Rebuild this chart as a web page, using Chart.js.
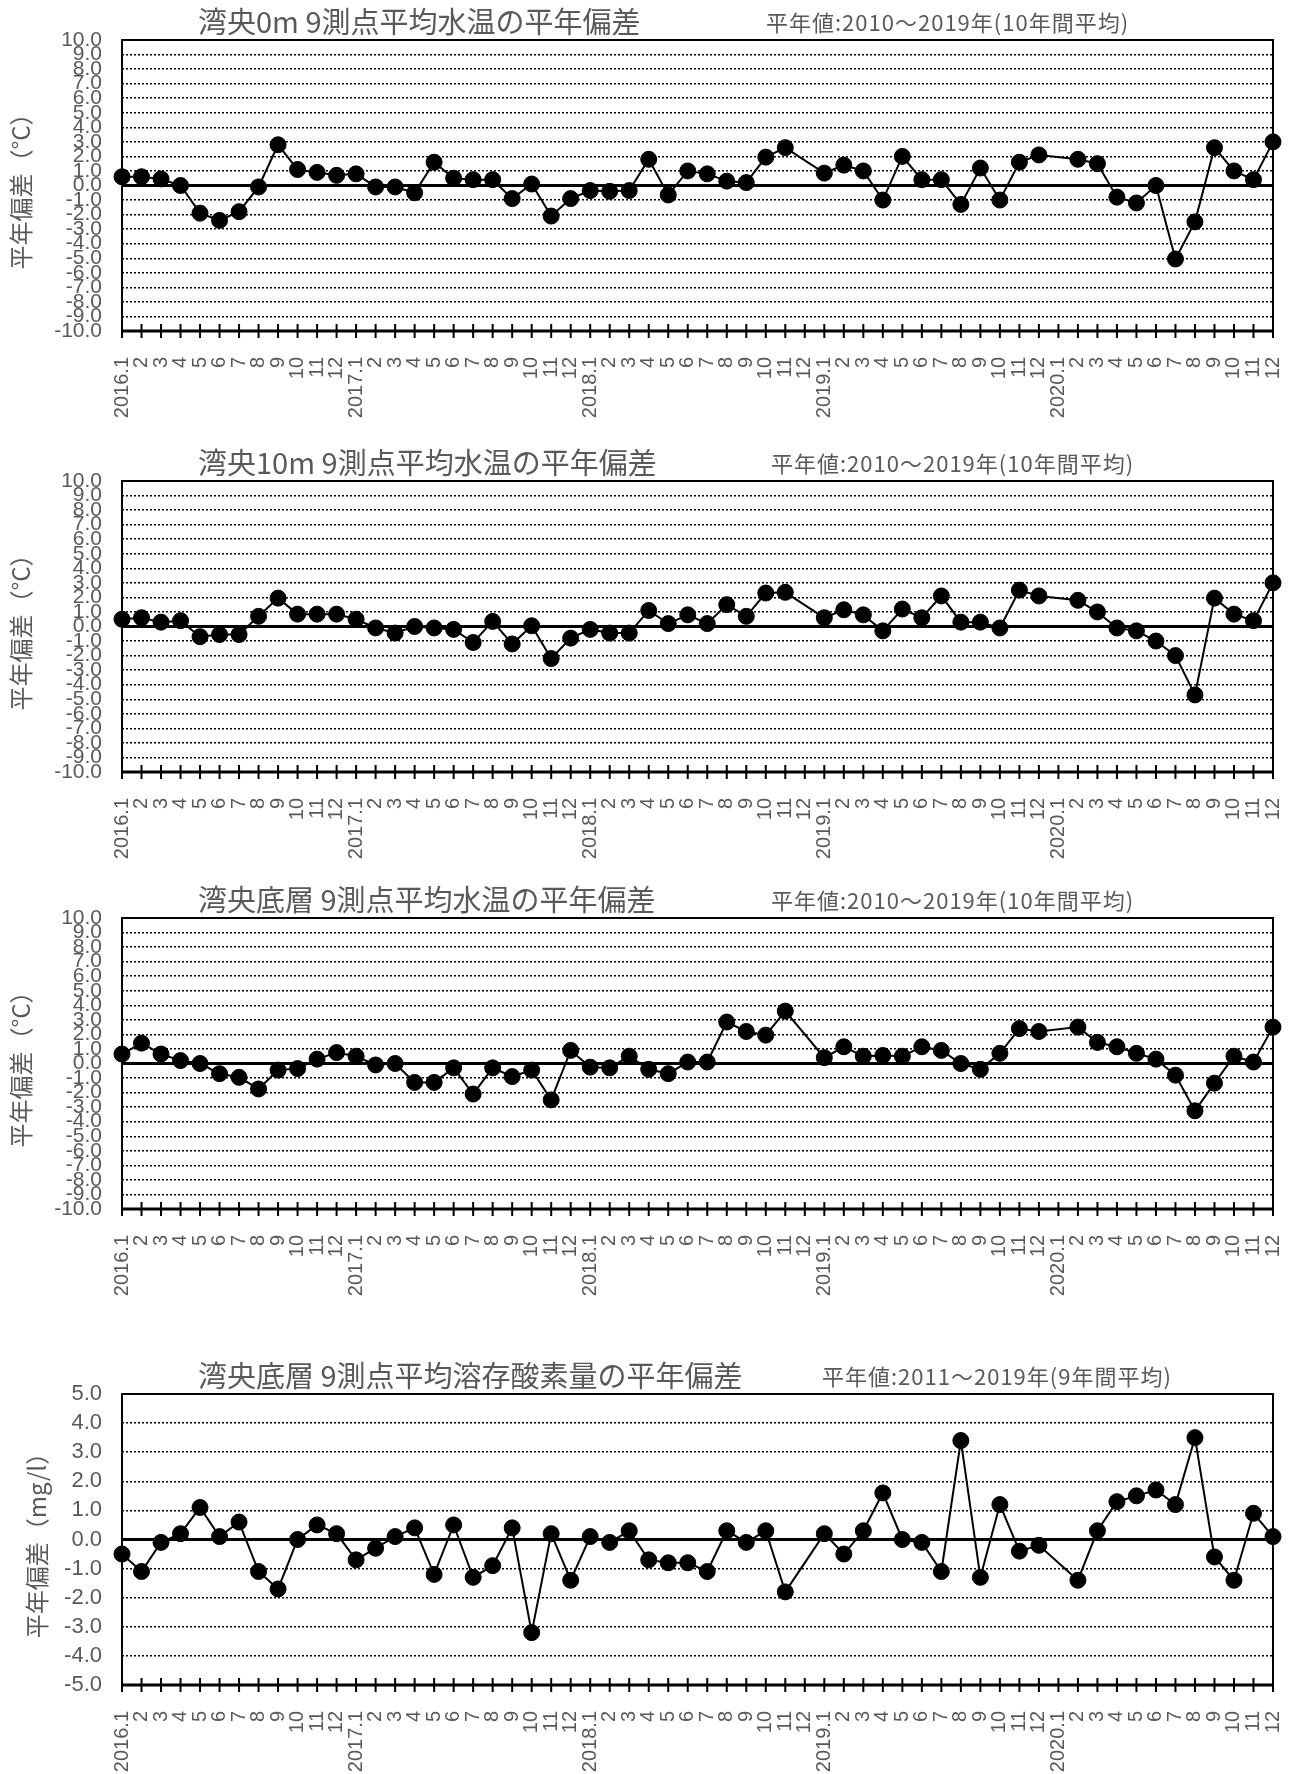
<!DOCTYPE html>
<html>
<head>
<meta charset="utf-8">
<script src="https://cdn.jsdelivr.net/npm/chart.js@4/dist/chart.umd.min.js"></script>
<style>
  body { margin: 0; background: #fff; }
  .box { position: absolute; left: 0; width: 1293px; height: 419px; }
</style>
</head>
<body>
<div class="box" style="top:0px"><canvas id="c0m" width="1293" height="419"></canvas></div>
<div class="box" style="top:441px"><canvas id="c10m" width="1293" height="419"></canvas></div>
<div class="box" style="top:878px"><canvas id="cbot" width="1293" height="419"></canvas></div>
<div class="box" style="top:1354px"><canvas id="cdo" width="1293" height="419"></canvas></div>
<script>
// months 2016.1 - 2020.12
const monthLabels = [
  '2016.1', '2', '3', '4', '5', '6', '7', '8', '9', '10', '11', '12',
  '2017.1', '2', '3', '4', '5', '6', '7', '8', '9', '10', '11', '12',
  '2018.1', '2', '3', '4', '5', '6', '7', '8', '9', '10', '11', '12',
  '2019.1', '2', '3', '4', '5', '6', '7', '8', '9', '10', '11', '12',
  '2020.1', '2', '3', '4', '5', '6', '7', '8', '9', '10', '11', '12'
];

// surface (0m) water temperature anomaly, deg C
const temp0m = [
  0.6, 0.6, 0.45, 0.0, -1.9, -2.4, -1.8, -0.1, 2.8, 1.1, 0.9, 0.7,
  0.8, -0.1, -0.1, -0.5, 1.6, 0.5, 0.4, 0.4, -0.9, 0.1, -2.1, -0.9,
  -0.35, -0.4, -0.35, 1.8, -0.65, 1.0, 0.8, 0.3, 0.2, 1.95, 2.6, null,
  0.85, 1.4, 1.0, -1.0, 2.0, 0.4, 0.4, -1.3, 1.2, -1.0, 1.6, 2.1,
  null, 1.8, 1.5, -0.8, -1.2, 0.0, -5.05, -2.5, 2.6, 1.0, 0.4, 3.0
];

// 10m water temperature anomaly, deg C
const temp10m = [
  0.5, 0.6, 0.3, 0.4, -0.7, -0.55, -0.55, 0.7, 1.95, 0.85, 0.85, 0.85,
  0.5, -0.1, -0.45, 0.0, -0.1, -0.2, -1.1, 0.35, -1.2, 0.05, -2.2, -0.8,
  -0.2, -0.45, -0.45, 1.1, 0.2, 0.8, 0.2, 1.5, 0.7, 2.3, 2.35, null,
  0.6, 1.15, 0.8, -0.3, 1.2, 0.6, 2.1, 0.3, 0.3, -0.1, 2.5, 2.1,
  null, 1.8, 1.0, -0.1, -0.3, -1.0, -2.0, -4.7, 1.95, 0.85, 0.4, 3.0
];

// bottom layer water temperature anomaly, deg C
const tempBottom = [
  0.65, 1.4, 0.65, 0.2, 0.0, -0.7, -0.95, -1.75, -0.45, -0.35, 0.3, 0.75,
  0.5, -0.1, 0.0, -1.3, -1.3, -0.3, -2.1, -0.3, -0.9, -0.45, -2.5, 0.9,
  -0.25, -0.3, 0.5, -0.4, -0.7, 0.1, 0.1, 2.85, 2.2, 1.95, 3.6, null,
  0.4, 1.15, 0.5, 0.55, 0.5, 1.15, 0.9, 0.0, -0.4, 0.7, 2.4, 2.2,
  null, 2.5, 1.45, 1.15, 0.7, 0.3, -0.8, -3.25, -1.35, 0.5, 0.1, 2.5
];

// bottom layer dissolved oxygen anomaly, mg/l
const doBottom = [
  -0.5, -1.1, -0.1, 0.2, 1.1, 0.1, 0.6, -1.1, -1.7, 0.0, 0.5, 0.2,
  -0.7, -0.3, 0.1, 0.4, -1.2, 0.5, -1.3, -0.9, 0.4, -3.2, 0.2, -1.4,
  0.1, -0.1, 0.3, -0.7, -0.8, -0.8, -1.1, 0.3, -0.1, 0.3, -1.8, null,
  0.2, -0.5, 0.3, 1.6, 0.0, -0.1, -1.1, 3.4, -1.3, 1.2, -0.4, -0.2,
  null, -1.4, 0.3, 1.3, 1.5, 1.7, 1.2, 3.5, -0.6, -1.4, 0.9, 0.1
];

const GRAY = '#595959';
const CJK = '"Noto Sans CJK JP", sans-serif';

// border, bold zero line, crossing ticks and the two title texts
function makeFrame(title, titleX, note, noteX)
{
    return {
        id: 'frame',
        beforeDatasetsDraw(chart) {
            let ctx = chart.ctx;
            let a = chart.chartArea;
            let xs = chart.scales.x;
            let ys = chart.scales.y;
            ctx.save();
            ctx.strokeStyle = '#000';

            let y0 = ys.getPixelForValue(0);
            ctx.lineWidth = 3;
            ctx.beginPath();
            ctx.moveTo(a.left, y0);
            ctx.lineTo(a.right, y0);
            ctx.stroke();

            ctx.lineWidth = 2;
            ctx.beginPath();
            ctx.moveTo(a.left, a.bottom);
            ctx.lineTo(a.left, a.top);
            ctx.lineTo(a.right, a.top);
            ctx.lineTo(a.right, a.bottom);
            ctx.stroke();

            ctx.lineWidth = 3;
            ctx.beginPath();
            ctx.moveTo(a.left - 1, a.bottom);
            ctx.lineTo(a.right + 1, a.bottom);
            ctx.stroke();

            ctx.lineWidth = 2;
            xs.ticks.forEach((t, i) => {
                let px = xs.getPixelForTick(i);
                ctx.beginPath();
                ctx.moveTo(px, a.bottom - 7);
                ctx.lineTo(px, a.bottom + 7);
                ctx.stroke();
            });

            ctx.fillStyle = GRAY;
            ctx.textBaseline = 'middle';
            ctx.textAlign = 'left';
            ctx.font = '29px ' + CJK;
            ctx.fillText(title, titleX, a.top - 18);
            ctx.font = '22px ' + CJK;
            ctx.letterSpacing = '1px';
            ctx.fillText(note, noteX, a.top - 17);
            ctx.restore();
        }
    };
}

function drawChart(id, values, lim, tickSize, yTitle, yTitleSize, yTitlePad, title, titleX, note, noteX)
{
    new Chart(document.getElementById(id), {
        type: 'line',
        data: {
            labels: monthLabels,
            datasets: [{
                data: values,
                borderColor: '#000',
                borderWidth: 2,
                backgroundColor: '#000',
                pointBackgroundColor: '#000',
                pointBorderColor: '#000',
                pointBorderWidth: 1,
                pointRadius: 8,
                spanGaps: true,
                tension: 0,
                clip: false
            }]
        },
        options: {
            responsive: false,
            animation: false,
            layout: { padding: { top: 40, right: 20, left: 0, bottom: 0 } },
            plugins: {
                legend: { display: false },
                tooltip: { enabled: false }
            },
            scales: {
                x: {
                    offset: false,
                    grid: { display: false, drawTicks: false },
                    border: { display: false },
                    ticks: {
                        autoSkip: false,
                        minRotation: 90,
                        maxRotation: 90,
                        padding: 26,
                        color: GRAY,
                        font: { family: 'Liberation Sans', size: 20 }
                    },
                    afterFit: (scale) => {
                        scale.height = 88;
                        scale.paddingLeft = 0;
                        scale.paddingRight = 0;
                    }
                },
                y: {
                    min: -lim,
                    max: lim,
                    grid: {
                        drawTicks: false,
                        lineWidth: 1.5,
                        color: (c) => (c.tick && (c.tick.value === 0 || Math.abs(c.tick.value) === lim)) ? 'rgba(0,0,0,0)' : '#000'
                    },
                    border: { display: false, dash: [2, 2] },
                    ticks: {
                        stepSize: 1,
                        autoSkip: false,
                        padding: 20,
                        color: GRAY,
                        font: { family: 'Liberation Sans', size: tickSize },
                        callback: (v) => Number(v).toFixed(1)
                    },
                    title: {
                        display: true,
                        text: yTitle,
                        color: GRAY,
                        padding: { top: yTitlePad, bottom: 0 },
                        font: { family: CJK, size: yTitleSize, lineHeight: 1.2 }
                    },
                    afterFit: (scale) => { scale.width = 122; }
                }
            }
        },
        plugins: [makeFrame(title, titleX, note, noteX)]
    });
}

drawChart('c0m', temp0m, 10, 21, '平年偏差（°C）', 24, 6,
    '湾央0m 9測点平均水温の平年偏差', 198, '平年値:2010～2019年(10年間平均)', 766);
drawChart('c10m', temp10m, 10, 21, '平年偏差（°C）', 24, 6,
    '湾央10m 9測点平均水温の平年偏差', 198, '平年値:2010～2019年(10年間平均)', 771);
drawChart('cbot', tempBottom, 10, 21, '平年偏差（°C）', 24, 6,
    '湾央底層 9測点平均水温の平年偏差', 198, '平年値:2010～2019年(10年間平均)', 771);
drawChart('cdo', doBottom, 5, 22, '平年偏差（mg/l）', 24, 22,
    '湾央底層 9測点平均溶存酸素量の平年偏差', 198, '平年値:2011～2019年(9年間平均)', 822);
</script>
</body>
</html>
